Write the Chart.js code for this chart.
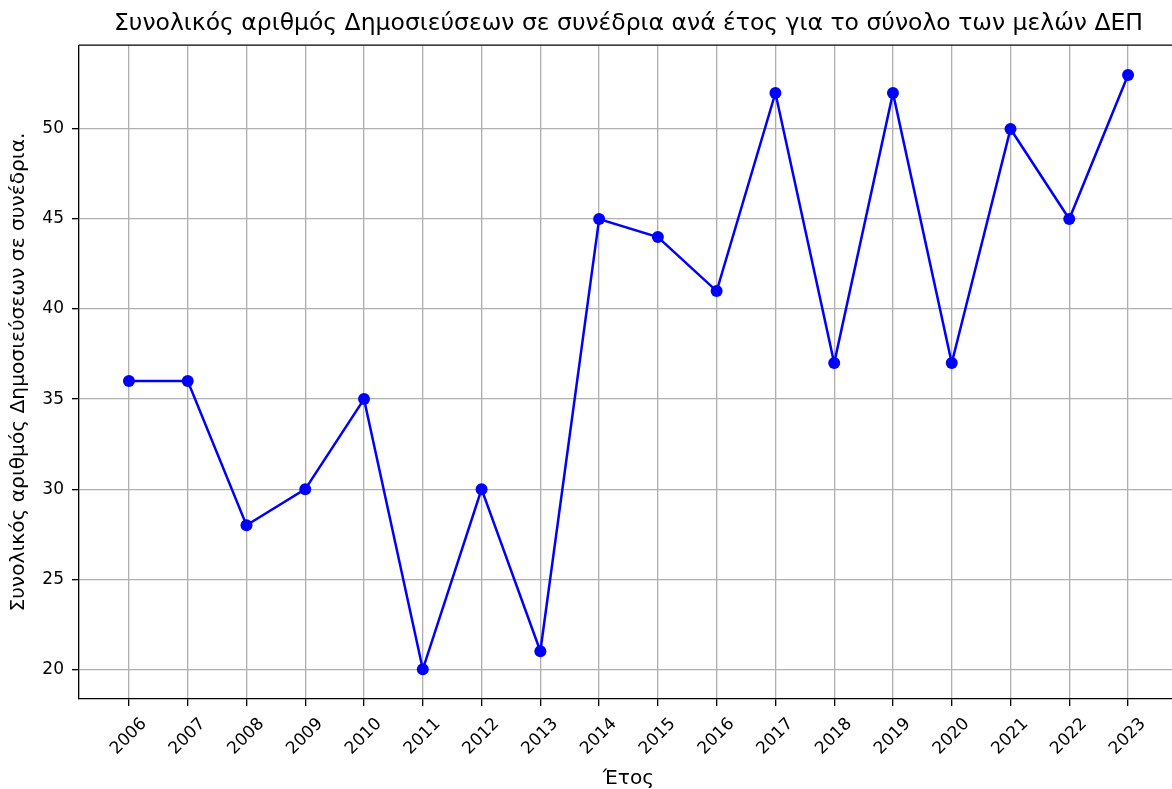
<!DOCTYPE html>
<html><head><meta charset="utf-8">
<script src="https://cdn.jsdelivr.net/npm/chart.js@4.4.0/dist/chart.umd.min.js"></script>
<style>html,body{margin:0;padding:0;overflow:hidden;background:#fff;width:1172px;height:789px}</style>
</head><body>
<canvas id="c" width="1184" height="789" style="display:block;width:1184px;height:789px"></canvas>
<script>
const years = [2006,2007,2008,2009,2010,2011,2012,2013,2014,2015,2016,2017,2018,2019,2020,2021,2022,2023];
const counts = [36,36,28,30,35,20,30,21,45,44,41,52,37,52,37,50,45,53];
const yTicks = [20,25,30,35,40,45,50];
const titleText = 'Συνολικός αριθμός Δημοσιεύσεων σε συνέδρια ανά έτος για το σύνολο των μελών ΔΕΠ';
const xLabel = 'Έτος';
const yLabel = 'Συνολικός αριθμός Δημοσιεύσεων σε συνέδρια.';

const FONT = "'DejaVu Sans', sans-serif";
const topSpine = {
  id: 'topSpine',
  afterDraw(chart) {
    const {ctx, chartArea} = chart;
    ctx.save();
    ctx.strokeStyle = '#000';
    ctx.lineWidth = 1.33;
    ctx.beginPath();
    ctx.moveTo(chartArea.left, chartArea.top);
    ctx.lineTo(chartArea.right, chartArea.top);
    ctx.stroke();
    ctx.restore();
  }
};

new Chart(document.getElementById('c'), {
  type: 'line',
  data: {
    datasets: [{
      data: years.map((y, i) => ({x: y, y: counts[i]})),
      borderColor: '#0000ff',
      backgroundColor: '#0000ff',
      borderWidth: 2.5,
      pointRadius: 6,
      pointBorderWidth: 0,
      pointBackgroundColor: '#0000ff',
      tension: 0,
      fill: false
    }]
  },
  options: {
    responsive: false,
    animation: false,
    layout: {padding: 0},
    plugins: {
      legend: {display: false},
      tooltip: {enabled: false},
      title: {
        display: true,
        text: titleText,
        fullSize: false,
        color: '#000',
        font: {family: FONT, size: 23.5, weight: 'normal', lineHeight: 1.2},
        padding: {top: 10, bottom: 7}
      }
    },
    scales: {
      x: {
        type: 'linear',
        min: 2005.15,
        max: 2023.85,
        afterBuildTicks: s => { s.ticks = years.map(v => ({value: v})); },
        afterFit: s => { s.height = 90; },
        ticks: {
          autoSkip: false,
          minRotation: 45,
          maxRotation: 45,
          padding: 8,
          labelOffset: 15,
          color: '#000',
          font: {family: FONT, size: 17},
          callback: v => String(v)
        },
        grid: {color: '#b0b0b0', lineWidth: 1.33, tickColor: '#000', tickLength: 7, drawTicks: true},
        border: {color: '#000', width: 1.33},
        title: {
          display: true,
          text: xLabel,
          color: '#000',
          font: {family: FONT, size: 20.2, lineHeight: 1.2},
          padding: {top: 0, bottom: -2}
        }
      },
      y: {
        type: 'linear',
        min: 18.35,
        max: 54.65,
        afterBuildTicks: s => { s.ticks = yTicks.map(v => ({value: v})); },
        afterFit: s => { s.width = 79; },
        ticks: {
          padding: 8,
          color: '#000',
          font: {family: FONT, size: 17},
          callback: v => String(v)
        },
        grid: {color: '#b0b0b0', lineWidth: 1.33, tickColor: '#000', tickLength: 7, drawTicks: true},
        border: {color: '#000', width: 1.33},
        title: {
          display: true,
          text: yLabel,
          color: '#000',
          font: {family: FONT, size: 20.2, lineHeight: 1.2},
          padding: {top: 7, bottom: 0}
        }
      }
    }
  },
  plugins: [topSpine]
});
</script>
</body></html>
